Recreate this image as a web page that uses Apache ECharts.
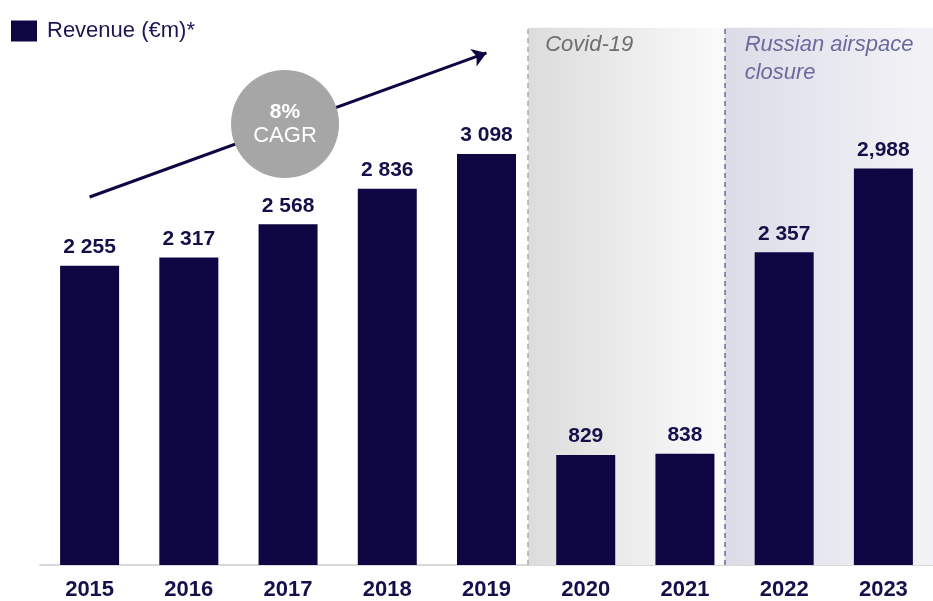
<!DOCTYPE html>
<html><head><meta charset="utf-8">
<script src="https://cdn.jsdelivr.net/npm/echarts@6/dist/echarts.min.js"></script>
<style>html,body{margin:0;padding:0;background:#fff}#c{width:933px;height:601px}</style>
</head><body><div id="c"></div>
<script>
const categories = ['2015','2016','2017','2018','2019','2020','2021','2022','2023'];
const revenue = [2255, 2317, 2568, 2836, 3098, 829, 838, 2357, 2988];
const revenueLabels = ['2 255','2 317','2 568','2 836','3 098','829','838','2 357','2,988'];
const seriesName = 'Revenue (€m)*';
const covidSpan = [4.92, 6.9];
const russiaSpan = [6.9, 9];
const arrowFrom = ['2015', 2774];
const arrowTo = ['2019', 3860];

const NAVY = '#0e0543';
const FONT = '"Liberation Sans", Arial, sans-serif';

const chart = echarts.init(document.getElementById('c'));
chart.setOption({
  animation: false,
  textStyle: {fontFamily: FONT},
  legend: {
    left: 6, top: 15, itemWidth: 26, itemHeight: 21, itemGap: 10,
    icon: 'rect',
    data: [seriesName],
    textStyle: {fontSize: 22, color: '#1c1650', fontFamily: FONT, padding: [0, 0, 0, 5]}
  },
  grid: {left: 40, top: 27.7, width: 896, height: 537.3},
  xAxis: [{
    type: 'category', data: categories,
    axisLine: {lineStyle: {color: '#d9d9d9', width: 2}},
    axisTick: {show: false},
    axisLabel: {fontSize: 22, fontWeight: 'bold', color: '#14104a', margin: 14, fontFamily: FONT}
  }, {
    type: 'value', min: 0, max: 9, show: false
  }],
  yAxis: {type: 'value', min: 0, max: 4050, show: false, splitLine: {show: false}},
  graphic: [{
    type: 'circle', shape: {cx: 285, cy: 124, r: 54}, style: {fill: '#a6a6a6'}, z: 10
  }, {
    type: 'text', x: 285, y: 112, style: {text: '8%', fill: '#fff', font: 'bold 21px ' + FONT, align: 'center', verticalAlign: 'middle'}, z: 11
  }, {
    type: 'text', x: 285, y: 136, style: {text: 'CAGR', fill: '#fff', font: '22px ' + FONT, align: 'center', verticalAlign: 'middle'}, z: 11
  }],
  series: [{
    type: 'line', xAxisIndex: 1, data: [], silent: true,
    markArea: {
      silent: true,
      data: [
        [{xAxis: covidSpan[0], itemStyle: {color: {type: 'linear', x: 0, y: 0, x2: 1, y2: 0, colorStops: [{offset: 0, color: '#dcdcdc'}, {offset: 1, color: '#fbfbfb'}]}},
          label: {show: true, position: 'insideTopLeft', formatter: 'Covid-19', fontStyle: 'italic', fontSize: 22, lineHeight: 28, color: '#6e6e6e', distance: 0, offset: [17, 3], fontFamily: FONT}},
         {xAxis: covidSpan[1]}],
        [{xAxis: russiaSpan[0], itemStyle: {color: {type: 'linear', x: 0, y: 0, x2: 1, y2: 0, colorStops: [{offset: 0, color: '#dcdce8'}, {offset: 1, color: '#f3f3f7'}]}},
          label: {show: true, position: 'insideTopLeft', formatter: 'Russian airspace\nclosure', fontStyle: 'italic', fontSize: 22, lineHeight: 28, color: '#6a6a9e', distance: 0, offset: [20, 3], fontFamily: FONT}},
         {xAxis: russiaSpan[1]}]
      ]
    },
    markLine: {
      silent: true, symbol: 'none', label: {show: false},
      data: [
        {xAxis: covidSpan[0], lineStyle: {color: '#ababab', type: [5, 4], width: 1.5}},
        {xAxis: russiaSpan[0], lineStyle: {color: '#6d6d9e', type: [5, 4], width: 1.5}}
      ]
    }
  }, {
    name: seriesName, type: 'bar', data: revenue, barWidth: 59, z: 5,
    itemStyle: {color: NAVY},
    label: {
      show: true, position: 'top', distance: 8,
      formatter: p => revenueLabels[p.dataIndex],
      fontSize: 21, fontWeight: 'bold', color: '#14104a', fontFamily: FONT
    },
    markLine: {
      silent: true, symbol: ['none', 'arrow'], symbolSize: 14,
      label: {show: false},
      lineStyle: {color: NAVY, width: 3, type: 'solid'},
      data: [[{coord: arrowFrom}, {coord: arrowTo}]]
    }
  }]
});
</script></body></html>
